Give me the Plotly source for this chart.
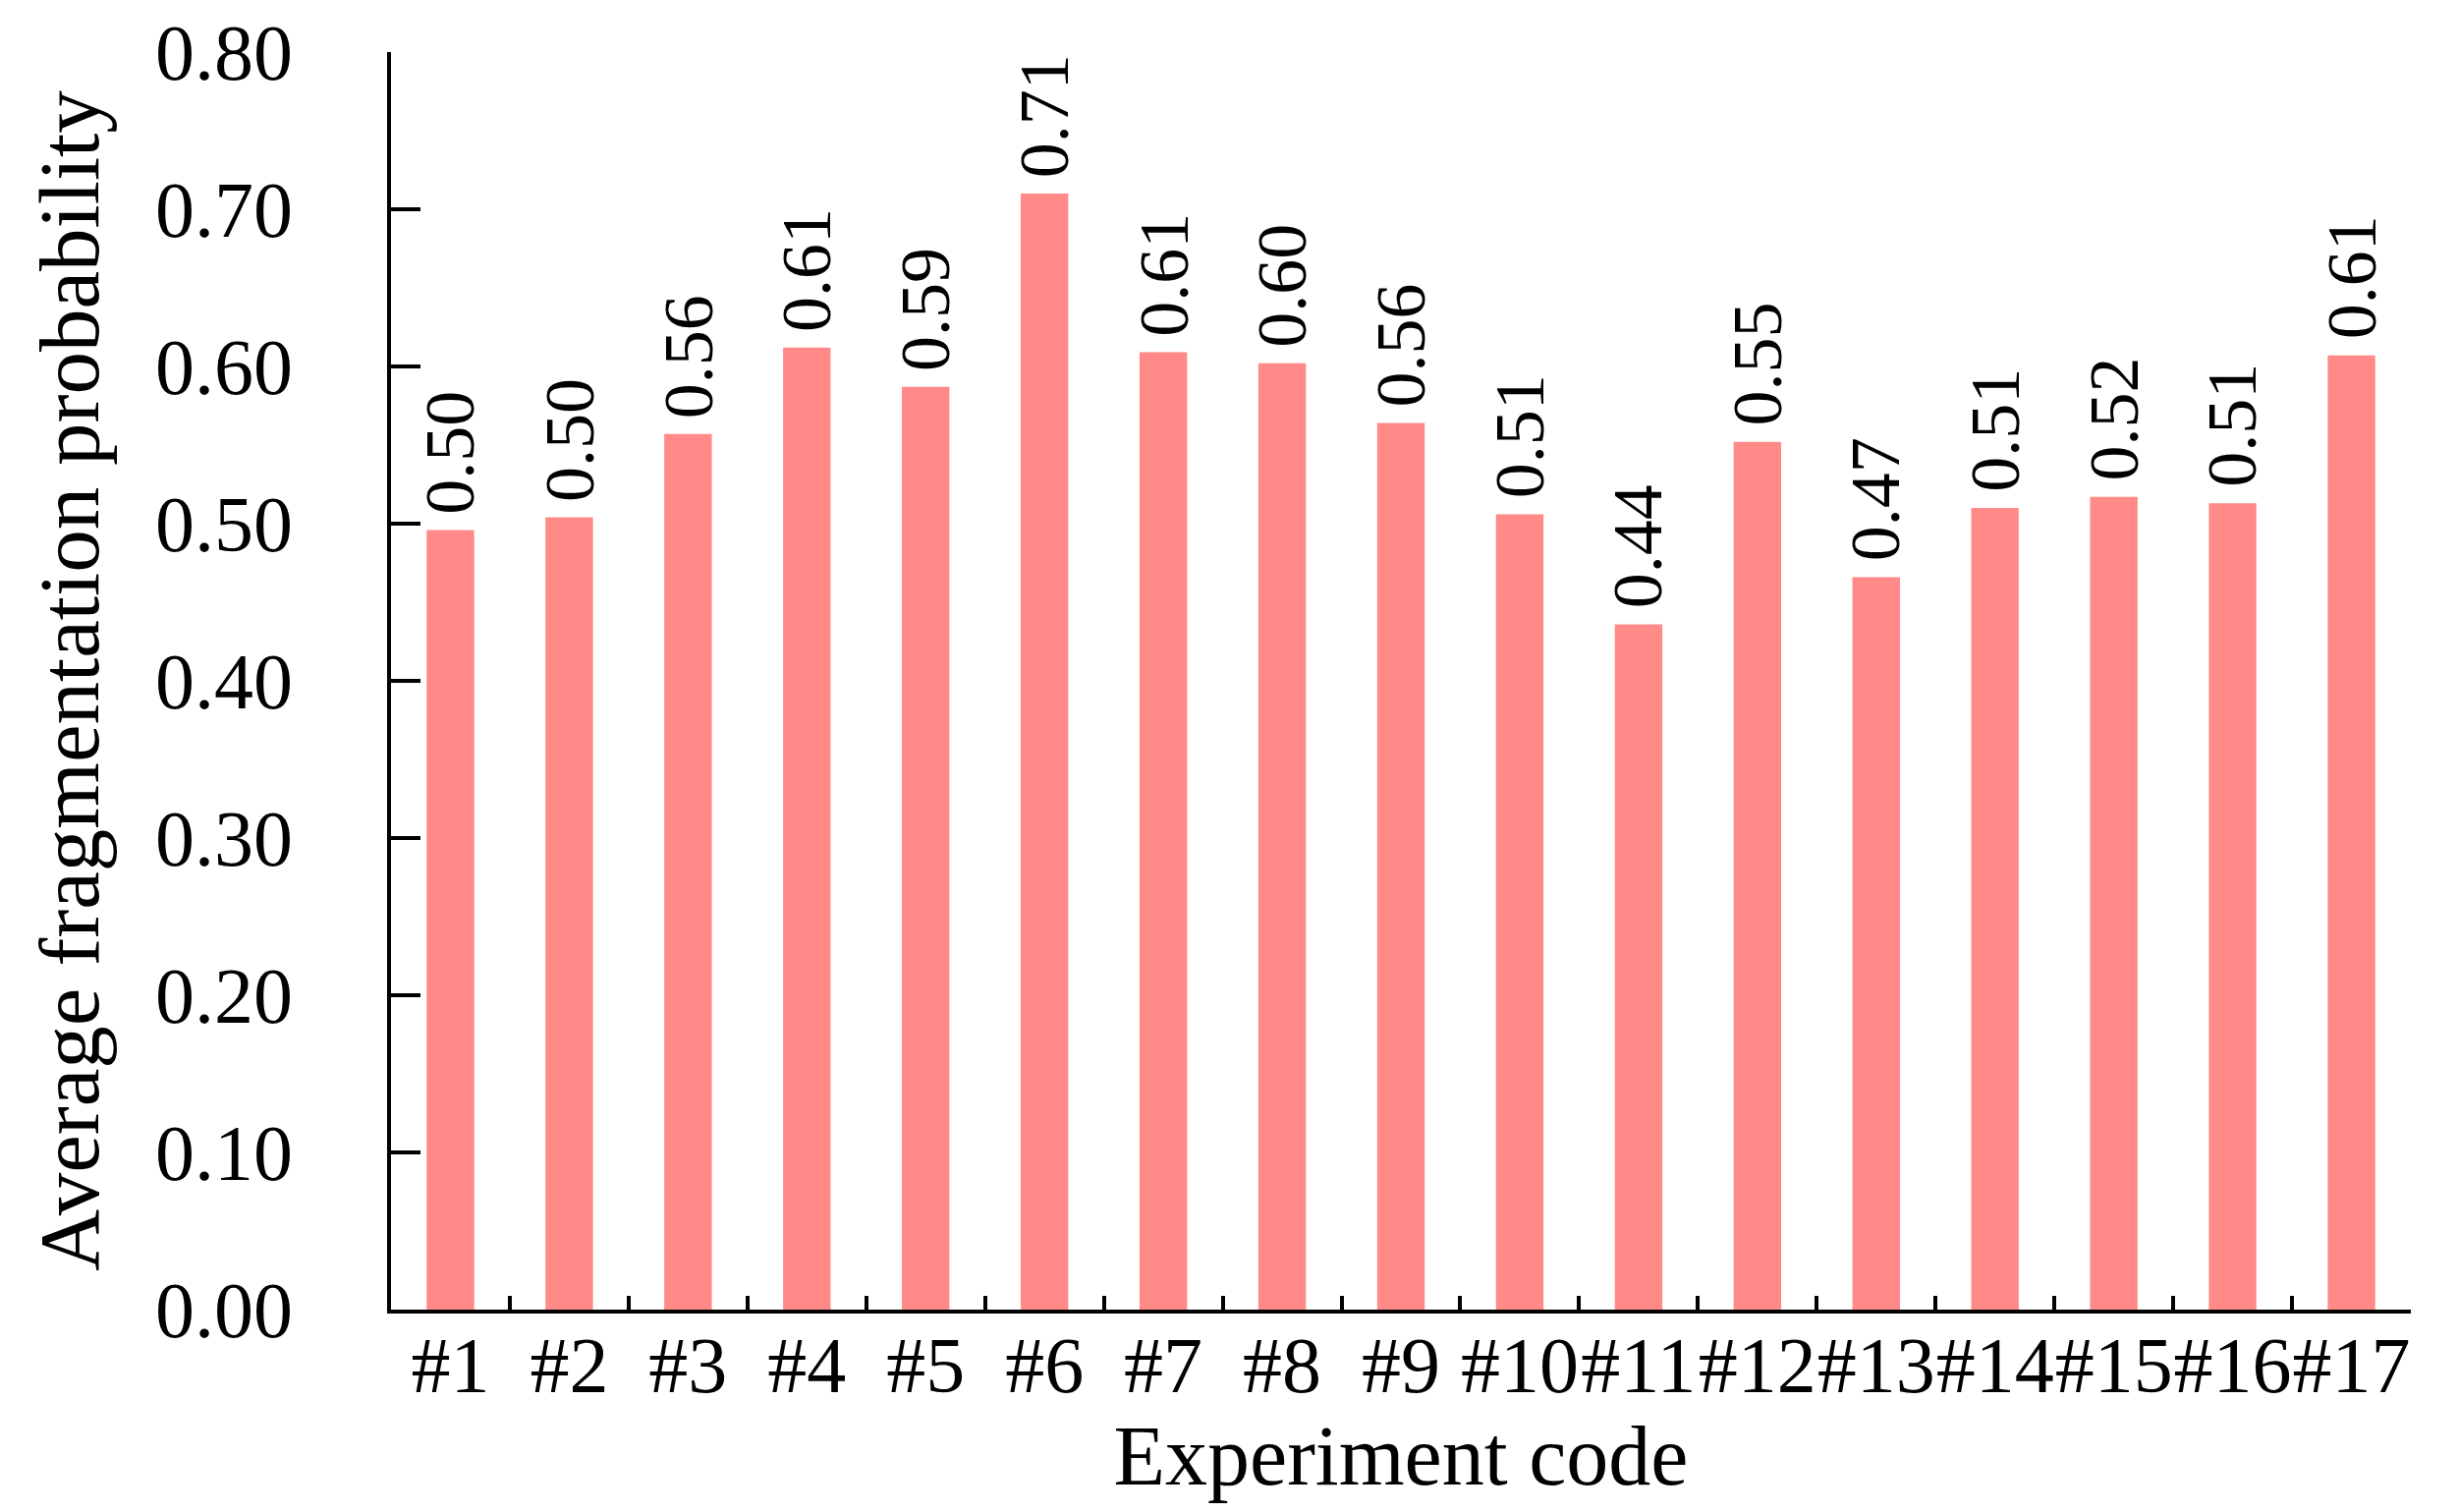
import plotly.graph_objects as go

categories = ["#1", "#2", "#3", "#4", "#5", "#6", "#7", "#8", "#9", "#10",
              "#11", "#12", "#13", "#14", "#15", "#16", "#17"]
values = [0.496, 0.504, 0.557, 0.612, 0.587, 0.710, 0.609, 0.602, 0.564,
          0.506, 0.436, 0.552, 0.466, 0.510, 0.517, 0.513, 0.607]
y_ticks = [0.0, 0.1, 0.2, 0.3, 0.4, 0.5, 0.6, 0.7, 0.8]

FONT = "Liberation Serif"

fig = go.Figure()
fig.add_trace(go.Bar(
    x=categories,
    y=values,
    marker=dict(color="#FF8A87", line=dict(width=0)),
    showlegend=False,
))

for c, v in zip(categories, values):
    fig.add_annotation(
        x=c, y=v, text=f"{v:.2f}",
        textangle=-90, showarrow=False,
        xanchor="center", yanchor="bottom", yshift=14,
        font=dict(family=FONT, size=72, color="black"),
    )

fig.update_layout(
    width=2502,
    height=1539,
    margin=dict(l=390, r=56, t=45, b=214, autoexpand=False),
    paper_bgcolor="white",
    plot_bgcolor="white",
    bargap=0.6,
    font=dict(family=FONT, color="black"),
)

fig.update_xaxes(
    type="category",
    automargin=False,
    showline=True, linecolor="black", linewidth=4,
    ticks="inside", ticklen=14, tickwidth=4, tickcolor="black",
    tickson="boundaries",
    tickangle=0,
    ticklabelstandoff=-16,
    showgrid=False, zeroline=False,
    tickfont=dict(family=FONT, size=80, color="black"),
    title=dict(text="Experiment code", font=dict(family=FONT, size=86, color="black"), standoff=0),
)
fig.update_yaxes(
    automargin=False,
    range=[0, 0.8],
    tickvals=y_ticks,
    tickformat=".2f",
    showline=True, linecolor="black", linewidth=4,
    ticks="inside", ticklen=30, tickwidth=4, tickcolor="black",
    ticklabelstandoff=80,
    showgrid=False, zeroline=False,
    tickfont=dict(family=FONT, size=80, color="black"),
    title=dict(text="Average fragmentation probability", font=dict(family=FONT, size=87, color="black"), standoff=30),
)

fig.write_html("out.html")
